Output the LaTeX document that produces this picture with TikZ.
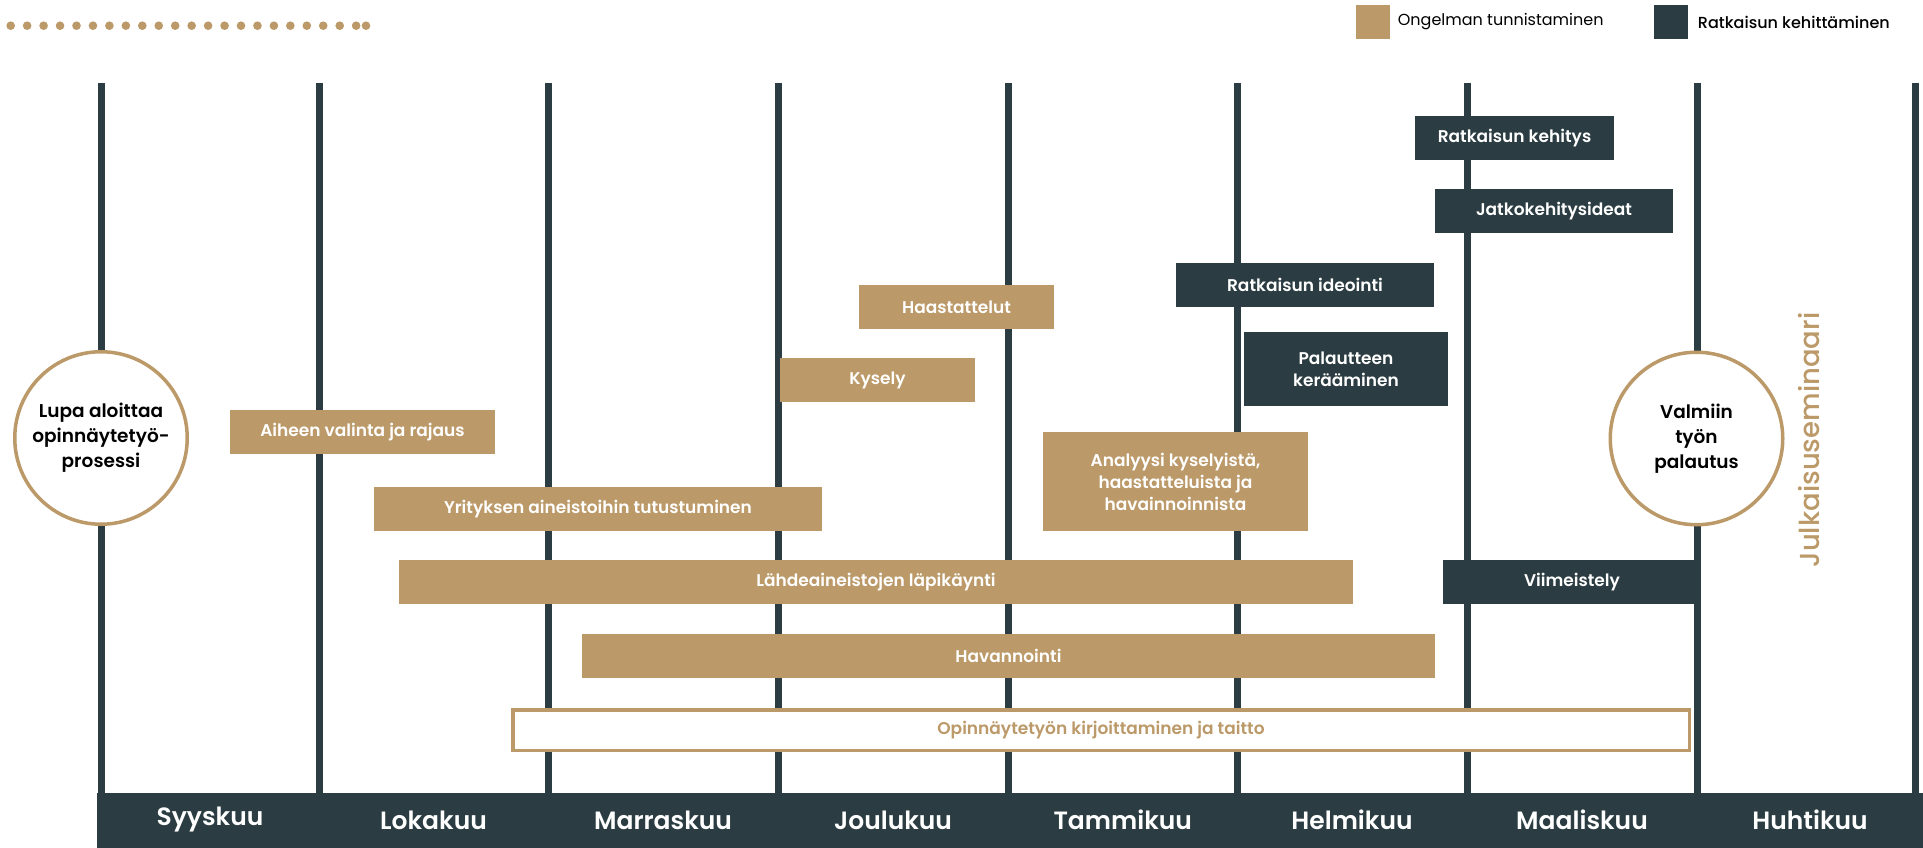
\documentclass[tikz,border=0pt]{standalone}
\usepackage{fontspec}
\usetikzlibrary{positioning}
\setmainfont{Poppins}
\newfontfamily\medfont{Poppins Medium}
\newfontfamily\semifont{Poppins SemiBold}
\definecolor{sand}{RGB}{187,153,104}
\definecolor{slate}{RGB}{43,61,66}
\begin{document}
\begin{tikzpicture}[x=1pt, y=-1pt,
    task/.style={fill=sand, text=white, align=center, inner sep=0pt, font=\semifont\fontsize{17}{22}\selectfont},
    devtask/.style={task, fill=slate},
    milestone/.style={circle, draw=sand, line width=3.5pt, fill=white, minimum size=172.5pt, inner sep=0pt, align=center, font=\semifont\fontsize{18.5}{25}\selectfont},
    month/.style={text=white, font=\semifont\fontsize{25}{30}\selectfont},
    keytext/.style={anchor=west, inner sep=0pt, font=\fontsize{16}{20}\selectfont}]
  \useasboundingbox (0,0) rectangle (1923,848);
  \foreach \i in {0,...,21}
    \fill[sand] ({10.7+16.45*\i},25.7) circle (4.3pt);
  \fill[sand] (366,25.7) circle (4.3pt);
  \node[fill=sand, minimum size=34pt, inner sep=0pt] (keyprob) at (1372.5,22) {};
  \node[keytext, right=8pt of keyprob] (keyprobtext) {Ongelman tunnistaminen};
  \node[fill=slate, minimum size=34pt, inner sep=0pt] (keydev) at (1670.5,22) {};
  \node[keytext, right=10pt of keydev, font=\medfont\fontsize{16}{20}\selectfont] (keydevtext) {Ratkaisun kehittäminen};
  \foreach \x in {101,319,548,778,1008,1237.5,1467,1697,1915}
    \draw[slate, line width=7pt] (\x,83) -- (\x,793);
  \fill[slate] (97,793) rectangle (1923,848);
  \node[month] (sep) at (210,820) {Syyskuu};
  \node[month] (oct) at (433.5,820) {Lokakuu};
  \node[month] (nov) at (663,820) {Marraskuu};
  \node[month] (dec) at (893,820) {Joulukuu};
  \node[month] (jan) at (1122.75,820) {Tammikuu};
  \node[month] (feb) at (1352,820) {Helmikuu};
  \node[month] (mar) at (1582,820) {Maaliskuu};
  \node[month] (apr) at (1810,820) {Huhtikuu};
  \node[milestone] (start) at (101,438) {Lupa aloittaa\\opinnäytetyö-\\prosessi};
  \node[milestone] (finish) at (1696.5,438.5) {Valmiin\\työn\\palautus};
  \node[rotate=90, text=sand, inner sep=0pt, font=\medfont\fontsize{27.5}{32}\selectfont] (seminar) at (1809,440) {Julkaisuseminaari};
  \node[task, minimum width=265pt, minimum height=44pt] (topic) at (362.5,432) {Aiheen valinta ja rajaus};
  \node[task, minimum width=448pt, minimum height=44pt] (company) at (598,509) {Yrityksen aineistoihin tutustuminen};
  \node[task, minimum width=954pt, minimum height=44pt] (sources) at (876,582) {Lähdeaineistojen läpikäynti};
  \node[task, minimum width=853pt, minimum height=44pt] (observe) at (1008.5,656) {Havannointi};
  \node[task, minimum width=195pt, minimum height=44pt] (survey) at (877.5,380) {Kysely};
  \node[task, minimum width=195pt, minimum height=44pt] (interview) at (956.5,307) {Haastattelut};
  \node[task, minimum width=265pt, minimum height=99pt] (analysis) at (1175.5,481.5) {Analyysi kyselyistä,\\haastatteluista ja\\havainnoinnista};
  \node[devtask, minimum width=258pt, minimum height=44pt] (ideas) at (1305,285) {Ratkaisun ideointi};
  \node[devtask, minimum width=204pt, minimum height=74pt] (feedback) at (1346,369) {Palautteen\\kerääminen};
  \node[devtask, minimum width=199pt, minimum height=44pt] (develop) at (1514.5,138) {Ratkaisun kehitys};
  \node[devtask, minimum width=238pt, minimum height=44pt] (further) at (1554,211) {Jatkokehitysideat};
  \node[devtask, minimum width=258pt, minimum height=44pt] (polish) at (1572,582) {Viimeistely};
  \node[task, fill=white, draw=sand, line width=3.5pt, text=sand, minimum width=1176.5pt, minimum height=40.5pt] (writing) at (1101,730) {Opinnäytetyön kirjoittaminen ja taitto};
\end{tikzpicture}
\end{document}
